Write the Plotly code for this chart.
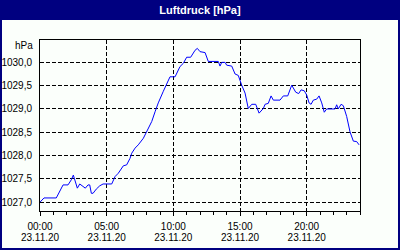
import plotly.graph_objects as go

title_text = "Luftdruck [hPa]"
y_unit = "hPa"

hours = [0.0, 0.3, 1.22, 1.35, 1.48, 1.73, 2.1, 2.35, 2.5, 2.65, 2.8, 2.98, 3.23, 3.4, 3.6, 3.73,
         3.85, 3.98, 4.22, 4.48, 4.73, 5.23, 5.38, 5.63, 5.87, 6.25, 6.5, 6.75, 6.88, 7.13, 7.37,
         7.75, 8.0, 8.38, 8.63, 8.87, 9.25, 9.75, 10.13, 10.5, 10.75, 11.0, 11.3, 11.63, 11.8,
         12.0, 12.38, 12.62, 13.37, 13.5, 13.63, 13.88, 14.0, 14.38, 14.63, 14.87, 15.13, 15.38,
         15.62, 15.88, 16.18, 16.43, 16.75, 16.88, 17.12, 17.33, 17.5, 18.0, 18.25, 18.58, 18.88,
         19.18, 19.4, 19.58, 19.82, 20.0, 20.18, 20.33, 20.5, 20.75, 20.93, 21.13, 21.32, 21.5,
         22.13, 22.25, 22.37, 22.58, 22.75, 23.0, 23.25, 23.5, 23.75, 23.93]
pressure = [1027.00, 1027.09, 1027.09, 1027.16, 1027.23, 1027.37, 1027.37, 1027.48, 1027.58,
            1027.44, 1027.30, 1027.39, 1027.33, 1027.30, 1027.37, 1027.37, 1027.19, 1027.19,
            1027.28, 1027.35, 1027.39, 1027.39, 1027.39, 1027.55, 1027.62, 1027.78, 1027.80,
            1027.94, 1028.05, 1028.16, 1028.23, 1028.37, 1028.51, 1028.73, 1028.94, 1029.13,
            1029.38, 1029.69, 1029.69, 1029.91, 1029.98, 1030.11, 1030.11, 1030.26, 1030.30,
            1030.23, 1030.21, 1030.02, 1030.02, 1029.92, 1030.00, 1030.00, 1029.94, 1029.92,
            1029.75, 1029.72, 1029.51, 1029.34, 1029.01, 1029.10, 1029.10, 1028.91, 1029.01,
            1029.10, 1029.12, 1029.28, 1029.19, 1029.19, 1029.28, 1029.28, 1029.51, 1029.36,
            1029.33, 1029.41, 1029.39, 1029.30, 1029.13, 1029.10, 1029.19, 1029.21, 1029.28,
            1029.13, 1028.93, 1029.00, 1029.00, 1029.09, 1029.00, 1029.10, 1029.07, 1028.84,
            1028.51, 1028.31, 1028.30, 1028.23]

x_tickvals = [0, 5, 10, 15, 20]
x_time_labels = ["00:00", "05:00", "10:00", "15:00", "20:00"]
x_date_labels = ["23.11.20", "23.11.20", "23.11.20", "23.11.20", "23.11.20"]
y_tickvals = [1027.0, 1027.5, 1028.0, 1028.5, 1029.0, 1029.5, 1030.0]
y_ticklabels = ["1027,0", "1027,5", "1028,0", "1028,5", "1029,0", "1029,5", "1030,0"]

W, H = 400, 250
L, R, T, B = 40, 40, 40, 39
pw, ph = W - L - R, H - T - B


def px_x(p):
    return (p - L) / pw


def px_y(p):
    return (H - B - p) / ph


FONT = "Liberation Sans, Arial, sans-serif"
NAVY = "#000080"
BG = "#FBFFFB"
FS = 10

fig = go.Figure()
fig.add_trace(go.Scatter(x=hours, y=pressure, mode="lines",
                         line=dict(color="#0000FF", width=1), hoverinfo="skip",
                         showlegend=False))
fig.add_trace(go.Scatter(x=[], y=[], xaxis="x2", showlegend=False))

fig.update_layout(
    width=W, height=H,
    margin=dict(l=L, r=R, t=T, b=B, pad=0, autoexpand=False),
    paper_bgcolor=BG, plot_bgcolor=BG,
    font=dict(family=FONT, size=FS, color="black"),
    title=dict(text="<b>" + title_text + "</b>", x=0.5, xref="paper", xanchor="center",
               y=1 - 10 / H, yref="container", yanchor="middle",
               font=dict(family=FONT, size=11, color="white"), automargin=False),
    xaxis=dict(range=[0, 24], tickvals=x_tickvals, ticktext=x_time_labels,
               showline=True, linecolor="black", linewidth=1, mirror=True,
               ticks="outside", ticklen=4, tickcolor="black", tickwidth=1,
               showgrid=True, gridcolor="black", gridwidth=1, griddash="4px,2px",
               zeroline=False, ticklabelstandoff=2, automargin=False,
               minor=dict(dtick=1, ticks="outside", ticklen=3, tickcolor="black",
                          showgrid=False)),
    xaxis2=dict(range=[0, 24], tickvals=x_tickvals, ticktext=x_date_labels,
                overlaying="x", anchor="y", side="bottom", showline=False,
                showgrid=False, ticks="", zeroline=False, ticklabelstandoff=19,
                automargin=False),
    yaxis=dict(range=[1026.81, 1030.48], tickvals=y_tickvals, ticktext=y_ticklabels,
               showline=True, linecolor="black", linewidth=1, mirror=True,
               ticks="", showgrid=True, gridcolor="black", gridwidth=1,
               griddash="4px,2px", zeroline=False, ticklabelstandoff=5,
               automargin=False),
    shapes=[
        dict(type="rect", xref="paper", yref="paper", x0=px_x(1), x1=px_x(399),
             y0=px_y(249), y1=px_y(10), line=dict(color=NAVY, width=2),
             fillcolor="rgba(0,0,0,0)", layer="below"),
        dict(type="rect", xref="paper", yref="paper", x0=px_x(-2), x1=px_x(402),
             y0=px_y(20), y1=px_y(-2), line=dict(width=0), fillcolor=NAVY,
             layer="below"),
    ],
    annotations=[
        dict(text=y_unit, xref="paper", yref="paper", x=px_x(35), y=px_y(45),
             xanchor="right", yanchor="middle", showarrow=False,
             font=dict(family=FONT, size=FS, color="black")),
    ],
)

fig.write_html("out.html")
